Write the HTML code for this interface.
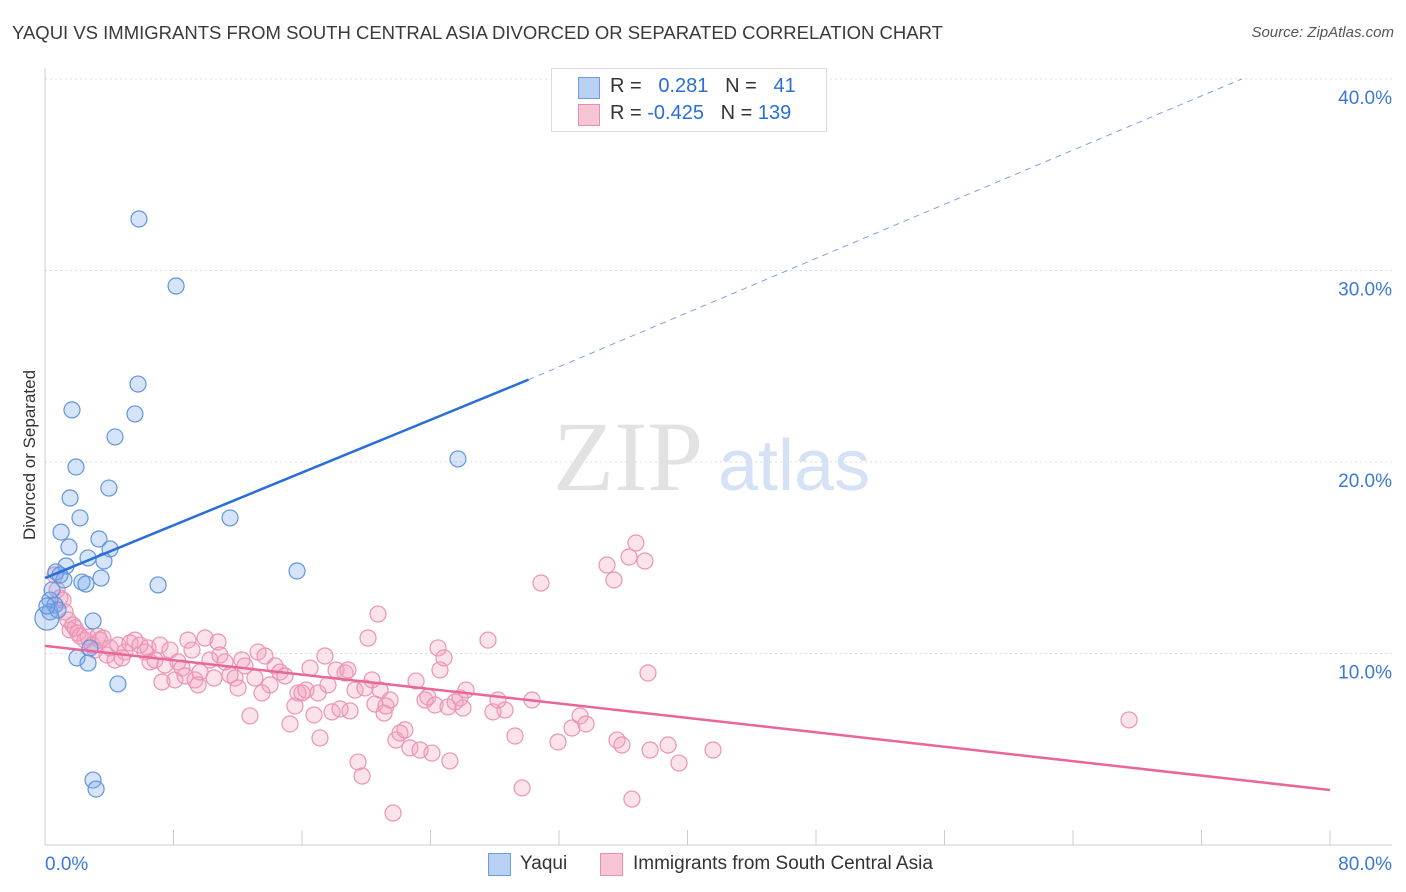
<!DOCTYPE html>
<html><head><meta charset="utf-8"><style>
body{margin:0;background:#fff;font-family:"Liberation Sans",sans-serif;}
#wrap{position:relative;width:1406px;height:892px;overflow:hidden;}
.t{position:absolute;white-space:nowrap;}
</style></head><body>
<div id="wrap">
<div class="t" style="left:12px;top:22px;font-size:18.5px;color:#3a3a3a;">YAQUI VS IMMIGRANTS FROM SOUTH CENTRAL ASIA DIVORCED OR SEPARATED CORRELATION CHART</div>
<div class="t" style="right:12px;top:24px;font-size:15px;color:#555;font-style:italic;">Source: ZipAtlas.com</div>
<div class="t" style="left:-60px;top:445px;font-size:17px;color:#333;transform:rotate(-90deg);width:180px;text-align:center;">Divorced or Separated</div>
<svg id="svg" width="1406" height="892" style="position:absolute;left:0;top:0"></svg>
<div style="position:absolute;left:551px;top:68px;width:274px;height:62px;border:1px solid #ddd;background:#fff;font-size:20px;">
 <div style="position:absolute;left:26px;top:8px;width:20px;height:20px;background:#b8d0f3;border:1px solid #6f9de0;"></div>
 <div class="t" style="left:58px;top:6px;color:#333;">R = <span style="color:#2a6ed8">&nbsp;&nbsp;0.281</span>&nbsp;&nbsp;&nbsp;N = <span style="color:#2a6ed8">&nbsp;&nbsp;41</span></div>
 <div style="position:absolute;left:26px;top:35px;width:20px;height:20px;background:#f7c5d5;border:1px solid #e88fb0;"></div>
 <div class="t" style="left:58px;top:33px;color:#333;">R = <span style="color:#2a6ed8">-0.425</span>&nbsp;&nbsp;&nbsp;N = <span style="color:#2a6ed8">139</span></div>
</div>
<div style="position:absolute;left:488px;top:853px;width:21px;height:21px;background:#b8d0f3;border:1px solid #6f9de0;"></div>
<div class="t" style="left:520px;top:853px;font-size:19px;color:#333;">Yaqui</div>
<div style="position:absolute;left:600px;top:853px;width:21px;height:21px;background:#f7c5d5;border:1px solid #e88fb0;"></div>
<div class="t" style="left:633px;top:853px;font-size:19px;color:#333;">Immigrants from South Central Asia</div>
</div>
<script>
const yTicks=[10,20,30,40];
const xTickLabels=["0.0%","80.0%"];
const bluePx=[[139,219],[176,286],[138,384],[135,414],[72,410],[115,437],[76,467],[109,488],[70,498],[80,518],[61,532],[230,518],[458,459],[69,547],[99,539],[110,549],[88,558],[104,561],[66,566],[56,572],[297,571],[101,578],[82,582],[86,584],[158,585],[64,580],[50,600],[55,605],[50,612],[93,621],[47,618],[90,648],[77,658],[88,663],[118,684],[93,780],[96,789],[60,575],[52,590],[58,610],[47,606]];
const pinkPx=[[55,575],[57,590],[60,598],[63,600],[65,612],[68,620],[70,630],[73,625],[75,628],[78,633],[80,636],[85,640],[88,637],[92,645],[95,650],[98,636],[100,640],[103,638],[107,655],[110,648],[115,660],[118,645],[122,658],[125,652],[130,643],[135,640],[140,645],[145,652],[148,648],[150,662],[155,660],[160,645],[162,682],[165,665],[170,650],[175,680],[178,662],[182,668],[185,676],[188,640],[192,650],[195,680],[198,685],[200,672],[205,638],[210,660],[214,678],[218,642],[220,655],[225,662],[230,675],[235,678],[238,688],[242,660],[245,666],[250,716],[255,678],[258,652],[262,693],[265,656],[270,685],[275,666],[280,672],[285,676],[290,724],[295,706],[298,693],[302,693],[306,690],[310,668],[314,715],[318,693],[320,738],[325,656],[328,685],[332,712],[336,670],[340,709],[345,673],[348,670],[350,711],[355,690],[358,762],[362,776],[365,688],[368,638],[372,680],[375,704],[378,614],[380,690],[384,713],[386,706],[390,700],[393,813],[396,740],[400,733],[405,730],[410,748],[416,681],[420,750],[425,700],[428,697],[432,753],[435,705],[438,648],[440,670],[444,658],[448,707],[450,761],[455,702],[460,698],[463,708],[466,690],[488,640],[493,712],[498,700],[505,710],[515,736],[522,788],[532,700],[541,583],[558,742],[572,728],[580,716],[586,724],[607,565],[614,580],[617,740],[622,745],[629,557],[632,799],[636,543],[645,561],[648,673],[650,750],[668,745],[679,763],[713,750],[1129,720]];
const toX=p=>(p-45)/1285*80, toY=p=>(845-p)/19.15;
const yaquiX=bluePx.map(p=>+toX(p[0]).toFixed(2)), yaquiY=bluePx.map(p=>+toY(p[1]).toFixed(2));
const immX=pinkPx.map(p=>+toX(p[0]).toFixed(2)), immY=pinkPx.map(p=>+toY(p[1]).toFixed(2));
const blueTrend=[13.94,24.3,40.0], blueTrendX=[0,30.1,74.5];
const pinkTrend=[10.4,2.87], pinkTrendX=[0,80];

const sx=v=>45+v/80*1285, sy=v=>845-v*19.15;
const svg=document.getElementById('svg'), NS='http://www.w3.org/2000/svg';
function mk(tag,a,name){const e=document.createElementNS(NS,tag);for(const k in a)e.setAttribute(k,a[k]);


svg.appendChild(e);return e;}
yTicks.forEach(v=>{mk('line',{x1:45,x2:1392,y1:sy(v),y2:sy(v),stroke:'#ddd','stroke-dasharray':'2,3'},'gridline');
const t=mk('text',{x:1392,y:sy(v)+25,'text-anchor':'end','font-size':19,fill:'#3d78d6','font-family':'Liberation Sans'},'y-tick-label');t.textContent=v.toFixed(1)+'%';});
mk('line',{x1:45,x2:45,y1:68,y2:845,stroke:'#ccc'},'y-axis');
mk('line',{x1:45,x2:1392,y1:845,y2:845,stroke:'#ccc'},'x-axis');
for(let i=0;i<=10;i++)mk('line',{x1:sx(i*8),x2:sx(i*8),y1:830,y2:845,stroke:'#ccc'},'x-tick');
let t=mk('text',{x:45,y:870,'font-size':19,fill:'#3d78d6','font-family':'Liberation Sans'},'x-tick-label');t.textContent=xTickLabels[0];
t=mk('text',{x:1392,y:870,'text-anchor':'end','font-size':19,fill:'#3d78d6','font-family':'Liberation Sans'},'x-tick-label');t.textContent=xTickLabels[1];
t=mk('text',{x:553,y:490,'font-size':100,fill:'#e2e2e2','font-family':'Liberation Serif'},'watermark-zip');t.textContent='ZIP';
t=mk('text',{x:718,y:490,'font-size':72,fill:'#d5e2f5','font-family':'Liberation Sans'},'watermark-atlas');t.textContent='atlas';
immX.forEach((x,i)=>mk('circle',{cx:sx(x),cy:sy(immY[i]),r:8,fill:'rgba(242,160,190,0.3)',stroke:'#eb94b4','stroke-width':1.2},'immigrants-point'));
yaquiX.forEach((x,i)=>mk('circle',{cx:sx(x),cy:sy(yaquiY[i]),r:i==30?12:8,fill:'rgba(120,165,235,0.3)',stroke:'#5f95dd','stroke-width':1.2},'yaqui-point'));
mk('line',{x1:sx(blueTrendX[0]),y1:sy(blueTrend[0]),x2:sx(blueTrendX[1]),y2:sy(blueTrend[1]),stroke:'#2a6ed8','stroke-width':2.5},'yaqui-trendline');
mk('line',{x1:sx(blueTrendX[1]),y1:sy(blueTrend[1]),x2:sx(blueTrendX[2]),y2:sy(blueTrend[2]),stroke:'#7aa3e0','stroke-width':1,'stroke-dasharray':'6,5'},'yaqui-trendline-extension');
mk('line',{x1:sx(pinkTrendX[0]),y1:sy(pinkTrend[0]),x2:sx(pinkTrendX[1]),y2:sy(pinkTrend[1]),stroke:'#e8669a','stroke-width':2.5},'immigrants-trendline');
</script>
</body></html>
